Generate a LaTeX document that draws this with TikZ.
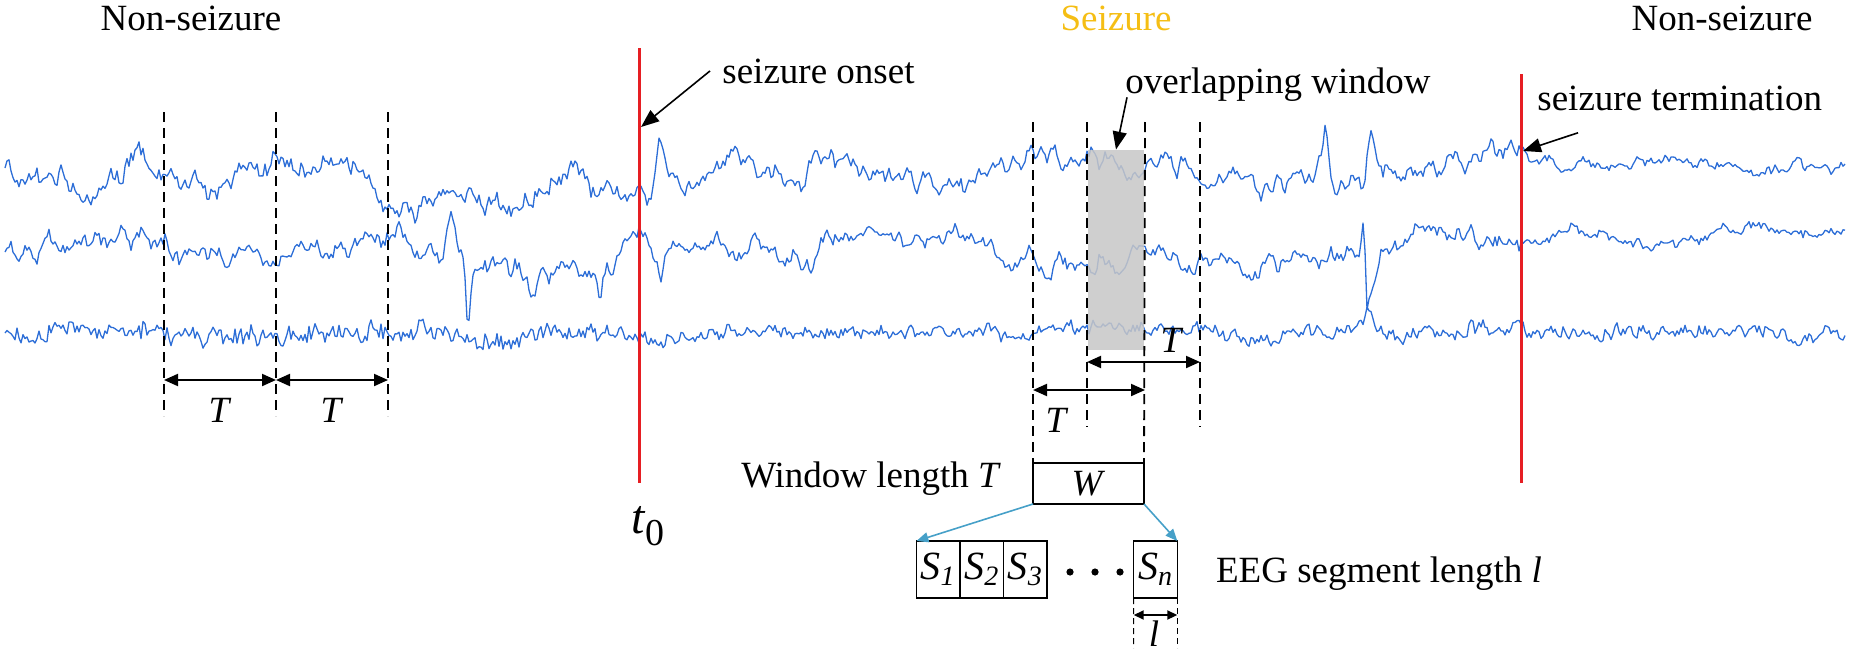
\documentclass[tikz,border=0pt]{standalone}
\usepackage{fontspec}
\setmainfont{Liberation Serif}
\usetikzlibrary{arrows.meta, positioning}

\definecolor{eegblue}{RGB}{45,110,215}
\definecolor{markred}{RGB}{230,30,35}
\definecolor{seizgold}{RGB}{245,190,20}
\definecolor{segteal}{RGB}{70,160,200}

% triangular spike: spk(x, centre, half width)
\pgfmathdeclarefunction{spk}{3}{%
  \begingroup
    \pgfmathparse{max(0,1-abs(#1-#2)/#3)}%
    \pgfmathsmuggle\pgfmathresult
  \endgroup}
% lopsided spike: aspk(x, centre, left width, right width)
\pgfmathdeclarefunction{aspk}{4}{%
  \begingroup
    \pgfmathparse{max(0,1-max((#2-#1)/#3,(#1-#2)/#4))}%
    \pgfmathsmuggle\pgfmathresult
  \endgroup}

\begin{document}
\begin{tikzpicture}[
  x=0.5pt, y=-0.5pt,
  every node/.style={font=\fontsize{18.5}{20}\selectfont},
  lbl/.style={anchor=base},
  eeg/.style={eegblue, line width=0.65pt, line join=round},
  marker/.style={markred, line width=1.5pt},
  winline/.style={dash pattern=on 5pt off 3pt, line width=0.9pt},
  segline/.style={dash pattern=on 3pt off 2pt, line width=0.5pt},
  dimarrow/.style={{Triangle[length=7pt,width=6pt]}-{Triangle[length=7pt,width=6pt]}, line width=1pt},
  smalldim/.style={{Triangle[length=5pt,width=4.5pt]}-{Triangle[length=5pt,width=4.5pt]}, line width=0.9pt},
  note/.style={-{Triangle[length=9pt,width=7pt]}, line width=0.8pt},
  split/.style={-{Triangle[length=6pt,width=5pt]}, segteal, line width=0.8pt},
  wbox/.style={draw, line width=0.75pt, outer sep=0pt, inner sep=0pt,
               minimum width=55.5pt, minimum height=20.5pt},
  segbox/.style={draw, line width=0.75pt, outer sep=0pt, inner sep=0pt,
                 minimum width=21.8pt, minimum height=28.5pt,
                 font=\fontsize{20}{20}\selectfont\itshape},
]
\useasboundingbox (0,0) rectangle (1850,653);

%% ── Event positions ───────────────────────────────────
\def\onx{639}    % seizure onset x
\def\endx{1521}  % seizure termination x

%% ── EEG traces (slow + mid + fast AR noise, plus spikes) ──
\pgfmathsetseed{21}
\draw[eeg] (5,168) \foreach \px [
    evaluate={\px as \sv using 0.97*\sp+7*(1-0.7*(\px>\endx))*rand},
    evaluate={\px as \mv using 0.8*\mp+5*(1-0.4*(\px>\endx))*rand},
    evaluate={\px as \fv using 0.3*\fp+(5-2*(\px>\onx))*rand},
    evaluate={\px as \yv using 168+\sv+\mv+\fv-45*spk(\px,660,8)+25*spk(\px,685,14)
              -45*spk(\px,1325,7)-40*spk(\px,1371,7)+28*spk(\px,1364,4)},
    remember=\sv as \sp (initially 0),
    remember=\mv as \mp (initially 0),
    remember=\fv as \fp (initially 0)]
  in {7,9,...,1845} { -- (\px,\yv) };
\draw[eeg] (5,252) \foreach \px [
    evaluate={\px as \sv using 0.97*\sp+6*(1-0.5*(\px>\endx))*rand},
    evaluate={\px as \mv using 0.8*\mp+4.5*(1-0.4*(\px>\endx))*rand},
    evaluate={\px as \fv using 0.3*\fp+(4.5-2*(\px>\onx))*rand},
    evaluate={\px as \yv using 252+\sv+\mv+\fv-35*spk(\px,451,8)+60*spk(\px,468,4)
              +40*spk(\px,600,6)+35*spk(\px,660,10)-25*spk(\px,1363,4)
              +70*aspk(\px,1367,3,18)-14*(\px>1380)*min(1,(\px-1380)/100)},
    remember=\sv as \sp (initially 0),
    remember=\mv as \mp (initially 0),
    remember=\fv as \fp (initially 0)]
  in {7,9,...,1845} { -- (\px,\yv) };
\draw[eeg] (5,333) \foreach \px [
    evaluate={\px as \sv using 0.9*\sp+2.5*rand},
    evaluate={\px as \mv using 0.6*\mp+4*rand},
    evaluate={\px as \fv using 0.2*\fp+(7.5-3.5*(\px>\onx))*rand},
    evaluate={\px as \yv using 333+\sv+\mv+\fv-30*aspk(\px,1368,4,10)},
    remember=\sv as \sp (initially 0),
    remember=\mv as \mp (initially 0),
    remember=\fv as \fp (initially 0)]
  in {7,9,...,1845} { -- (\px,\yv) };

%% ── Overlap region ────────────────────────────────────
\node[fill=black!22, fill opacity=0.85, minimum width=28pt, minimum height=100pt,
      inner sep=0pt] (ovwin) at (1116,250) {};

%% ── Phase labels ──────────────────────────────────────
\node[lbl] (nonleft)  at (191,31)  {Non-seizure};
\node[lbl, text=seizgold] (seizlbl) at (1116,31) {Seizure};
\node[lbl] (nonright) at (1722,31) {Non-seizure};

%% ── Onset / termination markers ───────────────────────
\coordinate (ontop) at (\onx,48);   \coordinate (onbot) at (\onx,483);
\coordinate (endtop) at (\endx,74); \coordinate (endbot) at (\endx,483);
\draw[marker] (ontop) -- (onbot);
\draw[marker] (endtop) -- (endbot);
\node[anchor=base] (tzero) at (648,533)
  {\fontsize{24}{24}\selectfont\textit{t}\raisebox{-6pt}{\fontsize{19}{19}\selectfont 0}};

%% ── Annotations ───────────────────────────────────────
\node[anchor=base west, inner sep=0pt] (onsetlbl) at (722,83) {seizure onset};
\node[anchor=base west, inner sep=0pt] (overlbl)  at (1125,93) {overlapping window};
\node[anchor=base west, inner sep=0pt] (termlbl)  at (1537,110) {seizure termination};
\coordinate (onsetpt) at (641,127);
\coordinate (termpt)  at (1523,151);
\draw[note] ([xshift=-6pt]onsetlbl.west) -- (onsetpt);
\draw[note] ([xshift=1pt,yshift=2pt]overlbl.south west) -- (ovwin.north);
\draw[note] ([xshift=20.5pt,yshift=-11pt]termlbl.south west) -- (termpt);

%% ── Non-overlapping windows (left) ────────────────────
\foreach \dx in {164,276,388}
  \draw[winline] (\dx,112) -- (\dx,416);
\coordinate (la) at (164,380); \coordinate (lb) at (276,380); \coordinate (lc) at (388,380);
\draw[dimarrow] (la) -- (lb);
\draw[dimarrow] (lb) -- (lc);
\node (tleft1) at (220,410) {\textit{T}};
\node (tleft2) at (332,410) {\textit{T}};

%% ── Window and segments ───────────────────────────────
\node[wbox] (win) at (1088.5,483.5) {\textit{W}};
\node[anchor=base east] (winlbl) at (1008,487) {Window length \textit{T}};

\node[segbox] (s1) at (938.2,569.5) {S\textsubscript{1}};
\node[segbox, right=0pt of s1] (s2) {S\textsubscript{2}};
\node[segbox, right=0pt of s2] (s3) {S\textsubscript{3}};
\node[segbox] (sn) at (1155.5,569.5) {S\textsubscript{n}};
\foreach \dx in {1070,1095,1120}
  \fill (\dx,572) circle[radius=1.8pt];
\node[anchor=base west] (seglbl) at (1209,582) {EEG segment length \textit{l}};

\draw[split] (win.south west) -- (s1.north west);
\draw[split] (win.south east) -- (sn.north east);

%% ── Overlapping windows (right) ───────────────────────
\draw[winline] (1033,122) -- (win.north west);
\draw[winline] (1087,122) -- (1087,427);
\draw[winline] (1145,122) -- (win.north east);
\draw[winline] (1200,122) -- (1200,427);
\coordinate (oa) at (1087,362); \coordinate (ob) at (1200,362);
\coordinate (oc) at (1033,390); \coordinate (od) at (1145,390);
\draw[dimarrow] (oa) -- (ob);
\draw[dimarrow] (oc) -- (od);
\node (tover1) at (1172,340) {\textit{T}};
\node (tover2) at (1057,420) {\textit{T}};

%% ── Segment length ────────────────────────────────────
\coordinate (sa) at (1133.7,648); \coordinate (sb) at (1177.3,648);
\draw[segline] (sn.south west) -- (sa);
\draw[segline] (sn.south east) -- (sb);
\coordinate (sc) at (1133.7,615); \coordinate (sd) at (1177.3,615);
\draw[smalldim] (sc) -- (sd);
\node[anchor=base, inner sep=0pt] (llbl) at (1154,646) {\textit{l}};

\end{tikzpicture}
\end{document}
